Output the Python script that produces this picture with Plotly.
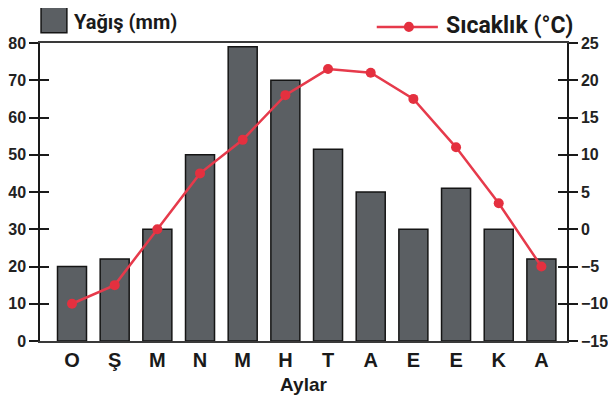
import plotly.graph_objects as go

months = ["O", "Ş", "M", "N", "M", "H", "T", "A", "E", "E", "K", "A"]
precip_mm = [20, 22, 30, 50, 79, 70, 51.5, 40, 30, 41, 30, 22]
temp_c = [-10, -7.5, 0, 7.5, 12, 18, 21.5, 21, 17.5, 11, 3.5, -5]
left_ticks = [0, 10, 20, 30, 40, 50, 60, 70, 80]
right_ticks = [-15, -10, -5, 0, 5, 10, 15, 20, 25]
x_pos = list(range(len(months)))

FONT = "Liberation Sans, Arial, sans-serif"
LEG_FONT = "Roboto, sans-serif"
BAR_FILL = "#5b5f63"
RED = "#e63a4b"

fig = go.Figure()
fig.add_trace(go.Bar(
    x=x_pos, y=precip_mm, width=0.68, name="Yağış (mm)",
    marker=dict(color=BAR_FILL, line=dict(color="#151515", width=1.5)),
    yaxis="y", showlegend=False,
))
fig.add_trace(go.Scatter(
    x=x_pos, y=temp_c, name="Sıcaklık (°C)", mode="lines+markers",
    line=dict(color=RED, width=2.5),
    marker=dict(color="#e4303f", size=10),
    yaxis="y2", showlegend=False,
))

tick_font = dict(family=FONT, size=16, color="#222222", weight="bold")
axis_common = dict(showgrid=False, zeroline=False, showline=True, automargin=False,
                   linecolor="#1a1a1a", linewidth=1.5,
                   ticks="outside", ticklen=9, tickwidth=1.5, tickcolor="#1a1a1a",
                   tickfont=tick_font)

fig.update_layout(
    template="none",
    width=608, height=404,
    margin=dict(l=32, r=49, t=35, b=71, pad=0),
    paper_bgcolor="white", plot_bgcolor="white",
    font=dict(family=FONT, color="#222222"),
    xaxis=dict(range=[-0.75, 11.6], tickvals=x_pos, ticktext=months, automargin=False,
               showgrid=False, zeroline=False, showline=True, mirror=True,
               linecolor="#3a3a3a", linewidth=2, ticks="",
               tickfont=dict(family=FONT, size=20, color="#1a1a1a", weight="bold"),
               title=dict(text="Aylar", standoff=8,
                          font=dict(family=FONT, size=19, color="#1a1a1a", weight="bold"))),
    yaxis=dict(range=[0, 80], tickvals=left_ticks, side="left", **axis_common),
    yaxis2=dict(range=[-15, 25], tickvals=right_ticks, overlaying="y", side="right",
                **axis_common),
    yaxis3=dict(range=[0, 80], tickvals=left_ticks, overlaying="y", side="left",
                automargin=False,
                showgrid=False, zeroline=False, showline=False, showticklabels=False,
                ticks="inside", ticklen=9, tickwidth=1.5, tickcolor="#1a1a1a"),
    yaxis4=dict(range=[-15, 25], tickvals=right_ticks, overlaying="y", side="right",
                automargin=False,
                showgrid=False, zeroline=False, showline=False, showticklabels=False,
                ticks="inside", ticklen=9, tickwidth=1.5, tickcolor="#1a1a1a"),
    showlegend=False,
)

# invisible anchor traces so overlay axes render
fig.add_trace(go.Scatter(x=[x_pos[0]], y=[left_ticks[0]], yaxis="y3", mode="markers",
                         marker=dict(opacity=0), hoverinfo="skip", showlegend=False))
fig.add_trace(go.Scatter(x=[x_pos[0]], y=[right_ticks[0]], yaxis="y4", mode="markers",
                         marker=dict(opacity=0), hoverinfo="skip", showlegend=False))

# custom legend
shapes = [
    dict(type="rect", xref="paper", yref="paper", x0=0.002, x1=0.051, y0=1.034, y1=1.121,
         fillcolor=BAR_FILL, line=dict(color="#151515", width=1.5)),
    dict(type="line", xref="paper", yref="paper", x0=0.639, x1=0.755, y0=1.054, y1=1.054,
         line=dict(color=RED, width=2.5)),
    dict(type="circle", xref="paper", yref="paper", x0=0.6905, x1=0.7095, y0=1.037, y1=1.071,
         fillcolor="#e4303f", line=dict(color="#e4303f", width=0)),
]
fig.update_layout(shapes=shapes)
fig.add_annotation(xref="paper", yref="paper", x=0.060, y=1.072, xanchor="left", yanchor="middle",
                   text="Yağış (mm)", showarrow=False,
                   font=dict(family=LEG_FONT, size=20, color="#1a1a1a", weight="bold"))
fig.add_annotation(xref="paper", yref="paper", x=0.767, y=1.058, xanchor="left", yanchor="middle",
                   text="Sıcaklık (°C)", showarrow=False,
                   font=dict(family=LEG_FONT, size=23, color="#1a1a1a", weight="bold"))

fig.write_html("out.html")
